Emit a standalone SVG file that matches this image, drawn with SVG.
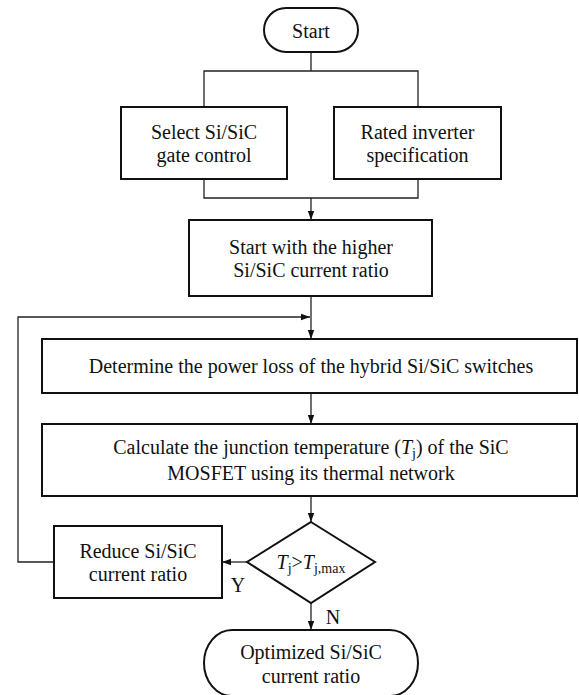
<svg xmlns="http://www.w3.org/2000/svg" width="579" height="695" viewBox="0 0 579 695">
<defs>
<style>
.box{fill:#fff;stroke:#111;stroke-width:2}
.ln{fill:none;stroke:#222;stroke-width:1.3}
.t{font-family:"Liberation Serif","Times New Roman",serif;font-size:20px;fill:#111;text-anchor:middle}
.it{font-style:italic}
.sub{font-size:14px}
</style>
<marker id="ah" markerWidth="10" markerHeight="8" refX="9" refY="4" orient="auto" markerUnits="userSpaceOnUse">
<path d="M0,0.8 L9,4 L0,7.2 Z" fill="#111"/>
</marker>
</defs>
<rect width="579" height="695" fill="#fff"/>
<g id="connectors">
<path class="ln" d="M311,52 V71 M204,107 V71 H418 V107"/>
<path class="ln" d="M204,179 V198 H418 V179"/>
<path class="ln" d="M311,198 V220" marker-end="url(#ah)"/>
<path class="ln" d="M311,296 V339" marker-end="url(#ah)"/>
<path class="ln" d="M54,562 H18 V317 H310" marker-end="url(#ah)"/>
<path class="ln" d="M311,393 V424" marker-end="url(#ah)"/>
<path class="ln" d="M311,496 V522" marker-end="url(#ah)"/>
<path class="ln" d="M247,562 H222" marker-end="url(#ah)"/>
<path class="ln" d="M311,603 V630" marker-end="url(#ah)"/>
<text class="t" x="238" y="592">Y</text>
<text class="t" x="333" y="624">N</text>
</g>
<g id="start">
<rect class="box" x="264" y="8" width="94" height="44" rx="22"/>
<text class="t" x="311" y="38">Start</text>
</g>
<g id="select">
<rect class="box" x="121" y="107" width="166" height="72"/>
<text class="t" x="204" y="139">Select Si/SiC</text>
<text class="t" x="204" y="162">gate control</text>
</g>
<g id="rated">
<rect class="box" x="334" y="107" width="167" height="72"/>
<text class="t" x="417.5" y="139">Rated inverter</text>
<text class="t" x="417.5" y="162">specification</text>
</g>
<g id="higher">
<rect class="box" x="189" y="220" width="243" height="76"/>
<text class="t" x="311" y="254">Start with the higher</text>
<text class="t" x="311" y="277">Si/SiC current ratio</text>
</g>
<g id="powerloss">
<rect class="box" x="42" y="339" width="535" height="54"/>
<text class="t" x="311" y="373">Determine the power loss of the hybrid Si/SiC switches</text>
</g>
<g id="junction">
<rect class="box" x="42" y="424" width="535" height="72"/>
<text class="t" x="311" y="454">Calculate the junction temperature (<tspan class="it">T</tspan><tspan class="sub" baseline-shift="-4">j</tspan>) of the SiC</text>
<text class="t" x="311" y="480">MOSFET using its thermal network</text>
</g>
<g id="decision">
<polygon class="box" points="311,522 375,562 311,603 247,562"/>
<text class="t" x="311" y="569"><tspan class="it">T</tspan><tspan class="sub" baseline-shift="-4">j</tspan>&gt;<tspan class="it">T</tspan><tspan class="sub" baseline-shift="-4">j,max</tspan></text>
</g>
<g id="reduce">
<rect class="box" x="54" y="526" width="168" height="72"/>
<text class="t" x="138" y="558">Reduce Si/SiC</text>
<text class="t" x="138" y="581">current ratio</text>
</g>
<g id="optimized">
<rect class="box" x="204" y="630" width="214" height="66" rx="28" ry="33"/>
<text class="t" x="311" y="659">Optimized Si/SiC</text>
<text class="t" x="311" y="683">current ratio</text>
</g>
</svg>
